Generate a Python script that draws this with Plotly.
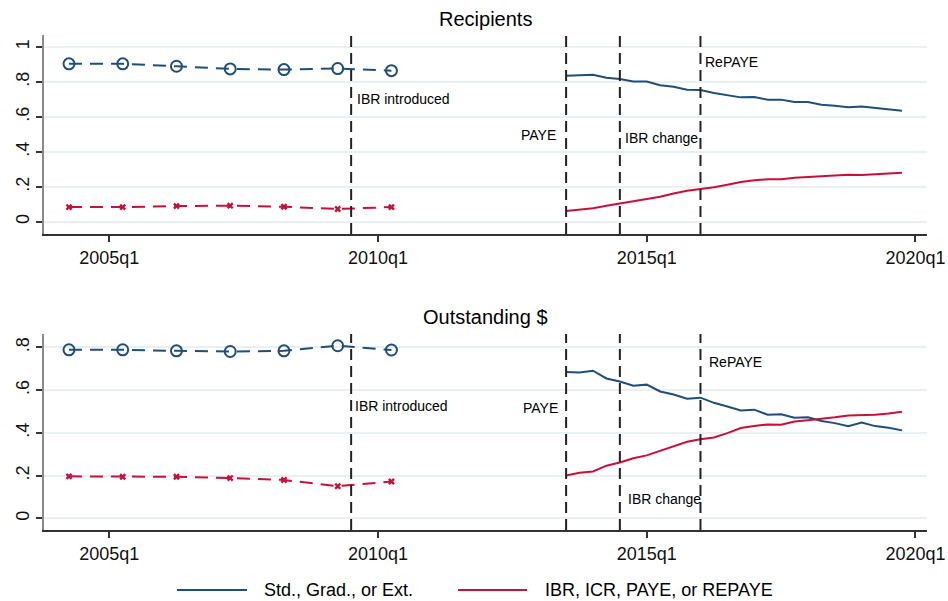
import plotly.graph_objects as go
from plotly.subplots import make_subplots

# ---- data -----------------------------------------------------------------
# Survey-era observations (annual, second quarter of each year)
early_q = ["2004q2", "2005q2", "2006q2", "2007q2", "2008q2", "2009q2", "2010q2"]
# Administrative quarterly series
late_q = ["2013q3", "2013q4", "2014q1", "2014q2", "2014q3", "2014q4", "2015q1",
          "2015q2", "2015q3", "2015q4", "2016q1", "2016q2", "2016q3", "2016q4",
          "2017q1", "2017q2", "2017q3", "2017q4", "2018q1", "2018q2", "2018q3",
          "2018q4", "2019q1", "2019q2", "2019q3", "2019q4"]

# Recipients share
rec_std_early = [0.904, 0.904, 0.890, 0.875, 0.871, 0.877, 0.865]
rec_idr_early = [0.084, 0.084, 0.090, 0.092, 0.086, 0.073, 0.084]
rec_std_late = [0.836, 0.838, 0.842, 0.824, 0.817, 0.803, 0.803, 0.781, 0.773,
                0.756, 0.754, 0.737, 0.724, 0.712, 0.714, 0.699, 0.699, 0.685,
                0.685, 0.670, 0.664, 0.655, 0.660, 0.651, 0.645, 0.636]
rec_idr_late = [0.061, 0.069, 0.077, 0.092, 0.105, 0.118, 0.128, 0.143, 0.162,
                0.178, 0.187, 0.197, 0.212, 0.227, 0.237, 0.244, 0.243, 0.252,
                0.256, 0.260, 0.263, 0.269, 0.267, 0.273, 0.275, 0.281]

# Outstanding dollars share
out_std_early = [0.789, 0.789, 0.784, 0.781, 0.784, 0.808, 0.788]
out_idr_early = [0.197, 0.195, 0.195, 0.189, 0.180, 0.151, 0.173]
out_std_late = [0.685, 0.683, 0.691, 0.655, 0.641, 0.621, 0.626, 0.594, 0.580,
                0.560, 0.565, 0.541, 0.524, 0.505, 0.509, 0.485, 0.487, 0.471,
                0.473, 0.456, 0.446, 0.432, 0.449, 0.432, 0.424, 0.412]
out_idr_late = [0.201, 0.214, 0.220, 0.247, 0.262, 0.282, 0.295, 0.317, 0.337,
                0.359, 0.370, 0.379, 0.399, 0.423, 0.432, 0.440, 0.438, 0.454,
                0.460, 0.465, 0.473, 0.482, 0.482, 0.485, 0.491, 0.499]

# Policy events
event_q = ["2009q3", "2013q3", "2014q3", "2016q1"]
event_names = ["IBR introduced", "PAYE", "IBR change", "RePAYE"]

x_tick_labels = ["2005q1", "2010q1", "2015q1", "2020q1"]
series_names = ["Std., Grad., or Ext.", "IBR, ICR, PAYE, or REPAYE"]


def qnum(s):
    """Quarterly date index (1960q1 = 0)."""
    y, q = s.split("q")
    return (int(y) - 1960) * 4 + int(q) - 1


BLUE = "#1f4e79"
RED = "#c8103a"
FONT = "Liberation Sans, Arial, sans-serif"

xe = [qnum(q) for q in early_q]
xl = [qnum(q) for q in late_q]
xev = [qnum(q) for q in event_q]

fig = make_subplots(rows=2, cols=1, vertical_spacing=0.2)

panels = [
    (1, rec_std_early, rec_idr_early, rec_std_late, rec_idr_late),
    (2, out_std_early, out_idr_early, out_std_late, out_idr_late),
]
for row, se, ie, sl, il in panels:
    fig.add_trace(go.Scatter(x=xe, y=se, mode="lines+markers", name=series_names[0],
                             showlegend=False,
                             line=dict(color=BLUE, width=2, dash="13px,8px"),
                             marker=dict(symbol="circle-open", size=11,
                                         line=dict(color=BLUE, width=2))),
                  row=row, col=1)
    fig.add_trace(go.Scatter(x=xe, y=ie, mode="lines+markers", name=series_names[1],
                             showlegend=False,
                             line=dict(color=RED, width=2, dash="13px,8px"),
                             marker=dict(symbol="x", size=6, color=RED)),
                  row=row, col=1)
    fig.add_trace(go.Scatter(x=xl, y=sl, mode="lines", name=series_names[0],
                             showlegend=False, line=dict(color=BLUE, width=2)),
                  row=row, col=1)
    fig.add_trace(go.Scatter(x=xl, y=il, mode="lines", name=series_names[1],
                             showlegend=False, line=dict(color=RED, width=2)),
                  row=row, col=1)

# Event markers: dashed vertical lines spanning each panel
for row, yd in [(1, "y domain"), (2, "y2 domain")]:
    xr = "x" if row == 1 else "x2"
    for xv in xev:
        fig.add_shape(type="line", xref=xr, yref=yd, x0=xv, x1=xv, y0=0, y1=1,
                      line=dict(color="#222222", width=2, dash="11px,6px"))

# Event labels (x shift in pixels, y in data units)
ann_font = dict(family=FONT, size=14, color="black")
top_pos = [(0.704, "left", 4), (0.496, "right", -8), (0.481, "left", 3), (0.912, "left", 3)]
bot_pos = [(0.524, "left", 2), (0.518, "right", -6), (0.091, "left", 6), (0.733, "left", 7)]
for (xr, yr, pos) in [("x", "y", top_pos), ("x2", "y2", bot_pos)]:
    for xv, name, (yv, anc, sh) in zip(xev, event_names, pos):
        fig.add_annotation(x=xv, y=yv, xref=xr, yref=yr, text=name, showarrow=False,
                           xanchor=anc, yanchor="middle", xshift=sh, font=ann_font)

# Panel titles
title_font = dict(family=FONT, size=20, color="black")
fig.add_annotation(x=0.5, y=1.032, xref="paper", yref="paper", text="Recipients",
                   showarrow=False, xanchor="center", yanchor="middle", font=title_font)
fig.add_annotation(x=0.5, y=0.430, xref="paper", yref="paper", text="Outstanding $",
                   showarrow=False, xanchor="center", yanchor="middle", font=title_font)

# Legend drawn beneath both panels
leg_y = -0.121
for (x0, x1, tx, col, name) in [(0.1506, 0.2299, 0.2469, BLUE, series_names[0]),
                                (0.4689, 0.5470, 0.5651, RED, series_names[1])]:
    fig.add_shape(type="line", xref="paper", yref="paper", x0=x0, x1=x1,
                  y0=leg_y, y1=leg_y, line=dict(color=col, width=2))
    fig.add_annotation(x=tx, y=leg_y, xref="paper", yref="paper", text=name,
                       showarrow=False, xanchor="left", yanchor="middle",
                       font=dict(family=FONT, size=18, color="black"))

xaxis_style = dict(range=[175.14, 240.86], tickvals=[qnum(t) for t in x_tick_labels],
                   ticktext=x_tick_labels, showgrid=False, zeroline=False,
                   showline=True, linecolor="#333333", linewidth=2, automargin=False,
                   ticks="outside", ticklen=6, tickcolor="#333333", tickwidth=1.5,
                   tickfont=dict(family=FONT, size=18, color="#111111"))
yaxis_common = dict(showgrid=True, gridcolor="#e8f0f2", gridwidth=1.5, zeroline=False,
                    showline=True, linecolor="#8a8a8a", linewidth=2, automargin=False,
                    ticks="outside", ticklen=6, tickcolor="#333333", tickwidth=1.5,
                    tickangle=-90, tickfont=dict(family=FONT, size=18, color="#111111"))

fig.update_layout(
    width=948, height=601, plot_bgcolor="white", paper_bgcolor="white",
    margin=dict(l=44, r=21, t=35, b=71), showlegend=False,
    xaxis=dict(domain=[0, 1], anchor="y", **xaxis_style),
    xaxis2=dict(domain=[0, 1], anchor="y2", **xaxis_style),
    yaxis=dict(domain=[0.598, 1.0], anchor="x", range=[-0.07, 1.069],
               tickvals=[0, 0.2, 0.4, 0.6, 0.8, 1.0],
               ticktext=["0", ".2", ".4", ".6", ".8", "1"], **yaxis_common),
    yaxis2=dict(domain=[0.0, 0.396], anchor="x2", range=[-0.054, 0.863],
                tickvals=[0, 0.2, 0.4, 0.6, 0.8],
                ticktext=["0", ".2", ".4", ".6", ".8"], **yaxis_common),
)

fig.write_html("out.html")
